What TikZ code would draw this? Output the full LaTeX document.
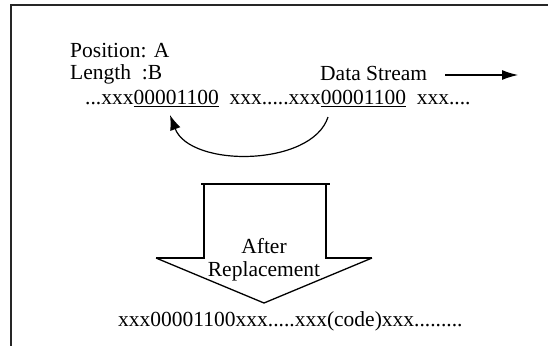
\documentclass[tikz,border=0pt]{standalone}
\usepackage{fontspec}
\setmainfont{Liberation Serif}
\usetikzlibrary{arrows.meta}
% underline drawn as a rule a little below the baseline
\newcommand\streamul[1]{\setbox0\hbox{#1}\rlap{\copy0}\rule[-3.2pt]{\wd0}{1.1pt}}
\begin{document}
\begin{tikzpicture}[x=1pt,y=-1pt,
  lbl/.style={inner sep=0pt, font=\fontsize{21.5}{26}\selectfont},
  frame/.style={line width=1.7pt, draw=black!85},
  outline/.style={line width=1.3pt, line join=miter},
  flow/.style={line width=1.2pt, -{Latex[length=15pt,width=11pt]}},
  stream/.style={line width=1.1pt, -{Latex[length=16pt,width=10pt]}}]
\useasboundingbox (0,0) rectangle (548,346);
% page frame: top and left edges only
\draw[frame] (548,5) -- (11,5) -- (11,346);

% labels
\node[lbl, anchor=base west] (pos) at (70,57) {Position: A};
\node[lbl, anchor=base west] (len) at (70,79) {Length\ \ :B};
\node[lbl, anchor=base west] (ds) at (320,80) {Data Stream};
\coordinate (dsend) at (518,75);
\draw[stream] ([xshift=18pt]ds.east |- dsend) -- (dsend);

% the data stream with the two matching patterns
\node[lbl, anchor=base west] (data) at (85,104)
  {...xxx\streamul{00001100}\ \ xxx.....xxx\streamul{00001100}\ \ xxx....};

% copy arrow from the second pattern back to the first
\coordinate (from) at (328,117);
\coordinate (to) at (170,115);
\draw[flow] (from) .. controls (312,167) and (190,168) .. (to);

% block arrow
\coordinate (tip) at (264,303);
\draw[outline] (201,184) -- (330,184);
\draw[outline] (156,258) -- (204,258) -- (204,184);
\draw[outline] (372,258) -- (326,258) -- (326,184);
\draw[outline] (156,258) -- (tip) -- (372,258);
\node[lbl, anchor=base] (after) at (264,253) {After};
\node[lbl, anchor=base] (repl) at (264,276) {Replacement};

% resulting stream
\node[lbl, anchor=base west] (result) at (118,326)
  {xxx00001100xxx.....xxx(code)xxx.........};
\end{tikzpicture}
\end{document}
